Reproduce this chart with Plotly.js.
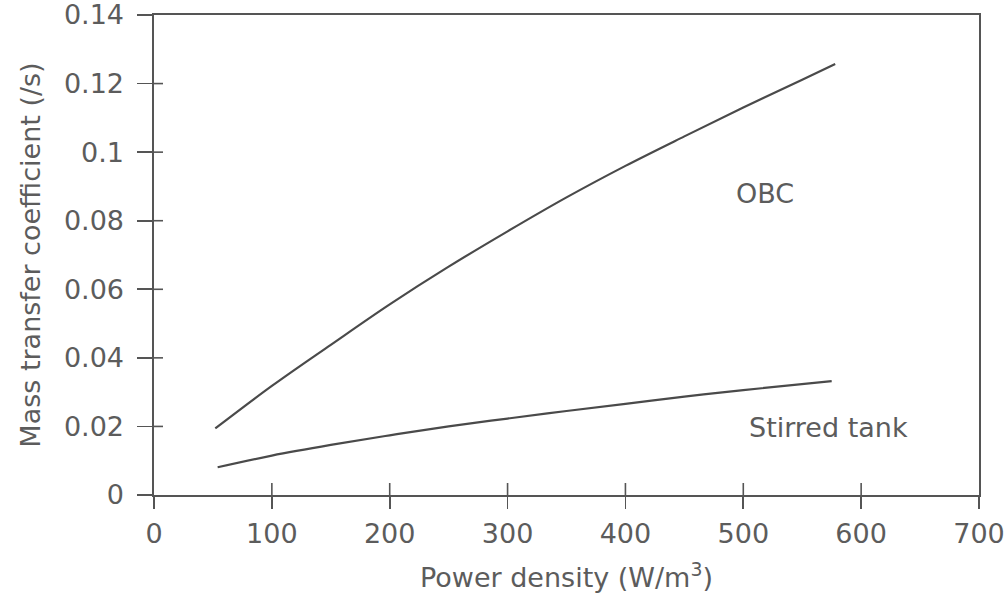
<!DOCTYPE html>
<html>
<head>
<meta charset="utf-8">
<script src="https://cdn.plot.ly/plotly-3.0.1.min.js"></script>
<style>
  html, body { margin: 0; padding: 0; background: #ffffff; }
  #chart { width: 1008px; height: 607px; }
</style>
</head>
<body>
<div id="chart"></div>
<script>
// Mass transfer coefficient against power density for two reactor types
const obcPower = [52, 100, 150, 200, 250, 300, 350, 400, 450, 500, 550, 578];
const obcKla = [0.0194, 0.0318, 0.0438, 0.0556, 0.0666, 0.0769, 0.0868, 0.0960, 0.1046, 0.1130, 0.1211, 0.1257];

const tankPower = [54, 100, 150, 200, 250, 300, 350, 400, 450, 500, 575];
const tankKla = [0.0081, 0.0115, 0.0146, 0.0174, 0.0200, 0.0223, 0.0245, 0.0266, 0.0287, 0.0306, 0.0332];

const xTicks = [0, 100, 200, 300, 400, 500, 600, 700];
const yTicks = [0, 0.02, 0.04, 0.06, 0.08, 0.1, 0.12, 0.14];
const yTickText = ['0', '0.02', '0.04', '0.06', '0.08', '0.1', '0.12', '0.14'];

const seriesLabels = ['OBC', 'Stirred tank'];
const labelAt = [[518, 0.088], [572, 0.0198]];

const ink = '#555555';
const textInk = '#5c5c5c';
const font = 'DejaVu Sans, Arial, sans-serif';
const fs = 27;

const lineStyle = { color: '#4a4a4a', width: 2.2, shape: 'spline', smoothing: 1 };

const traces = [
  { x: obcPower, y: obcKla, type: 'scatter', mode: 'lines', line: lineStyle, name: seriesLabels[0], hoverinfo: 'skip' },
  { x: tankPower, y: tankKla, type: 'scatter', mode: 'lines', line: lineStyle, name: seriesLabels[1], hoverinfo: 'skip' }
];

// inner halves of the crossing tick marks, sized in pixels from the axis lines
const tickLine = { color: ink, width: 1.6 };
const innerTicks = [
  ...xTicks.slice(1, -1).map(v => ({
    type: 'line', xref: 'x', yref: 'y', ysizemode: 'pixel', yanchor: 0,
    x0: v, x1: v, y0: 0, y1: 12, line: tickLine
  })),
  ...yTicks.slice(1, -1).map(v => ({
    type: 'line', xref: 'x', yref: 'y', xsizemode: 'pixel', xanchor: 0,
    x0: 0, x1: 9, y0: v, y1: v, line: tickLine
  }))
];

const layout = {
  width: 1008, height: 607,
  margin: { l: 154, r: 29, t: 15, b: 112 },
  paper_bgcolor: '#ffffff', plot_bgcolor: '#ffffff',
  showlegend: false,
  font: { family: font, color: textInk, size: fs },
  xaxis: {
    range: [0, 700.0001], autorange: false, tickvals: xTicks,
    showgrid: false, zeroline: false,
    showline: true, linecolor: ink, linewidth: 1.6, mirror: true,
    ticks: 'outside', ticklen: 12, tickwidth: 1.6, tickcolor: ink,
    tickfont: { family: font, size: fs, color: textInk },
    ticklabelstandoff: 2, ticklabeloverflow: 'allow',
    title: { text: 'Power density (W/m<sup>3</sup>)', font: { family: font, size: fs, color: textInk }, standoff: 20 }
  },
  yaxis: {
    range: [0, 0.1400001], autorange: false, tickvals: yTicks, ticktext: yTickText,
    showgrid: false, zeroline: false,
    showline: true, linecolor: ink, linewidth: 1.6, mirror: true,
    ticks: 'outside', ticklen: 15, tickwidth: 1.6, tickcolor: ink,
    tickfont: { family: font, size: fs, color: textInk },
    ticklabelstandoff: 8, ticklabeloverflow: 'allow',
    title: { text: 'Mass transfer coefficient (/s)', font: { family: font, size: fs, color: textInk }, standoff: 15 }
  },
  shapes: innerTicks,
  annotations: seriesLabels.map((t, i) => ({
    x: labelAt[i][0], y: labelAt[i][1], xref: 'x', yref: 'y',
    text: t, showarrow: false,
    font: { family: font, size: fs, color: textInk }
  }))
};

Plotly.newPlot('chart', traces, layout, { staticPlot: true, displayModeBar: false });
</script>
</body>
</html>
